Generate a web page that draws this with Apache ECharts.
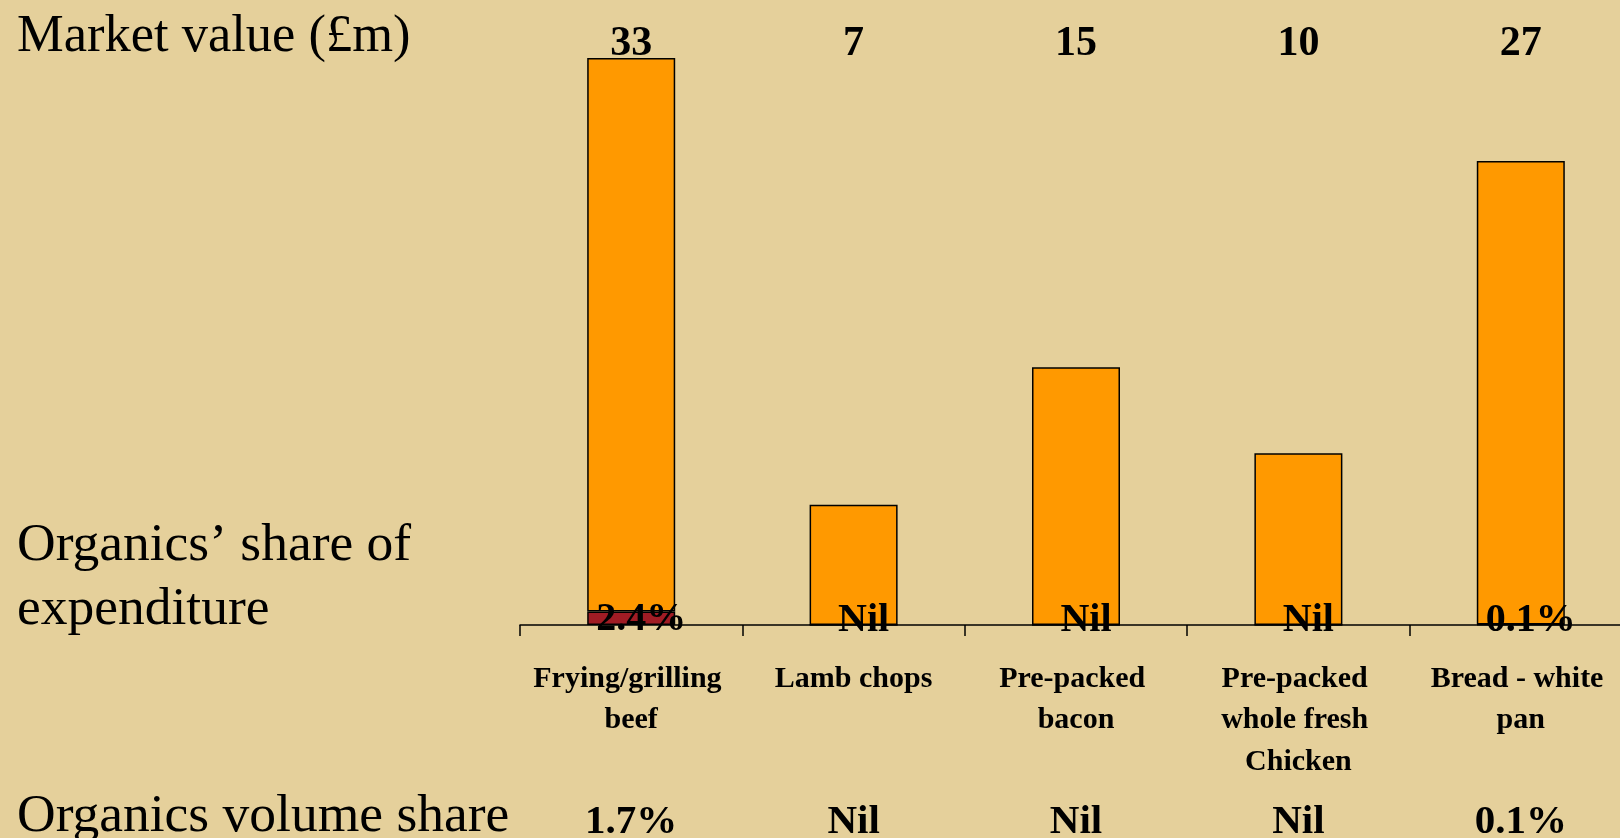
<!DOCTYPE html>
<html>
<head>
<meta charset="utf-8">
<script src="https://cdn.jsdelivr.net/npm/echarts@6/dist/echarts.min.js"></script>
<style>
  html, body { margin: 0; padding: 0; background: #E5D09B; }
  #chart { width: 1620px; height: 838px; }
</style>
</head>
<body>
<div id="chart"></div>
<script>
// Product categories and their figures
const categories = [
  'Frying/grilling beef',
  'Lamb chops',
  'Pre-packed bacon',
  'Pre-packed whole fresh Chicken',
  'Bread - white pan'
];
const marketValue = [33, 7, 15, 10, 27];          // £m
const expenditureShare = [2.4, 0, 0, 0, 0.1];     // organics' share of expenditure, %
const volumeShare = [1.7, 0, 0, 0, 0.1];          // organics' volume share, %

const fmtShare = v => (v === 0 ? 'Nil' : v.toFixed(1) + '%');

// Split each market value into the organic part and the rest
const organicValue = marketValue.map((v, i) => v * expenditureShare[i] / 100);
const otherValue = marketValue.map((v, i) => v - organicValue[i]);

const SERIF = '"Liberation Serif", "Times New Roman", serif';
const INK = '#000000';

const chart = echarts.init(document.getElementById('chart'), null, { renderer: 'canvas' });

chart.setOption({
  backgroundColor: '#E5D09B',
  animation: false,
  title: [
    {
      text: 'Market value (£m)',
      left: 17, top: 11, padding: 0,
      textStyle: { fontFamily: SERIF, fontWeight: 'normal', fontSize: 52.5, lineHeight: 53, color: INK }
    },
    {
      text: 'Organics\u2019 share of\nexpenditure',
      left: 17, top: 514, padding: 0,
      textStyle: { fontFamily: SERIF, fontWeight: 'normal', fontSize: 53.5, lineHeight: 64, color: INK }
    },
    {
      text: 'Organics volume share',
      left: 17, top: 790, padding: 0,
      textStyle: { fontFamily: SERIF, fontWeight: 'normal', fontSize: 53.5, lineHeight: 54, color: INK }
    }
  ],
  grid: [
    // the category axis runs on past the right edge of the canvas
    { left: 520, top: 58, width: 1112, height: 567, outerBoundsMode: 'none', containLabel: false },
    { left: 520, top: 700, width: 1112, height: 100, outerBoundsMode: 'none', containLabel: false }
  ],
  xAxis: [
    {
      type: 'category', gridIndex: 0, position: 'bottom', data: categories,
      boundaryGap: true,
      axisLine: { show: true, lineStyle: { color: INK, width: 1.5 } },
      axisTick: { show: true, interval: 0, length: 11, lineStyle: { color: INK, width: 1.5 } },
      axisLabel: {
        interval: 0, width: 200, overflow: 'break',
        fontFamily: SERIF, fontWeight: 'bold', fontSize: 30, lineHeight: 41.5,
        color: INK, margin: 33, verticalAlign: 'top'
      },
      splitLine: { show: false }
    },
    {
      type: 'category', gridIndex: 0, position: 'top', data: categories,
      axisLine: { show: false }, axisTick: { show: false }, splitLine: { show: false },
      axisLabel: {
        interval: 0,
        formatter: (v, i) => String(marketValue[i]),
        fontFamily: SERIF, fontWeight: 'bold', fontSize: 42, lineHeight: 42,
        color: INK, margin: 14, verticalAlign: 'middle'
      }
    },
    {
      type: 'category', gridIndex: 1, position: 'bottom', data: categories,
      axisLine: { show: false }, axisTick: { show: false }, splitLine: { show: false },
      axisLabel: {
        interval: 0,
        formatter: (v, i) => fmtShare(volumeShare[i]),
        fontFamily: SERIF, fontWeight: 'bold', fontSize: 41, lineHeight: 41,
        color: INK, margin: 22, verticalAlign: 'middle'
      }
    }
  ],
  yAxis: [
    { type: 'value', gridIndex: 0, min: 0, max: 33, show: false },
    { type: 'value', gridIndex: 1, min: 0, max: 1, show: false }
  ],
  series: [
    {
      name: 'Organic',
      type: 'bar', stack: 'market', xAxisIndex: 0, yAxisIndex: 0,
      data: organicValue,
      barWidth: 88,
      z: 3,
      itemStyle: { color: '#A01C24', borderColor: INK, borderWidth: 1.5 },
      label: {
        show: true, position: 'insideBottom', distance: 0, offset: [10, 15],
        formatter: p => fmtShare(expenditureShare[p.dataIndex]),
        fontFamily: SERIF, fontWeight: 'bold', fontSize: 40, lineHeight: 40, color: INK
      }
    },
    {
      name: 'Other',
      type: 'bar', stack: 'market', xAxisIndex: 0, yAxisIndex: 0,
      data: otherValue,
      barWidth: 88,
      itemStyle: { color: '#FF9900', borderColor: INK, borderWidth: 1.5 }
    }
  ]
});
</script>
</body>
</html>
